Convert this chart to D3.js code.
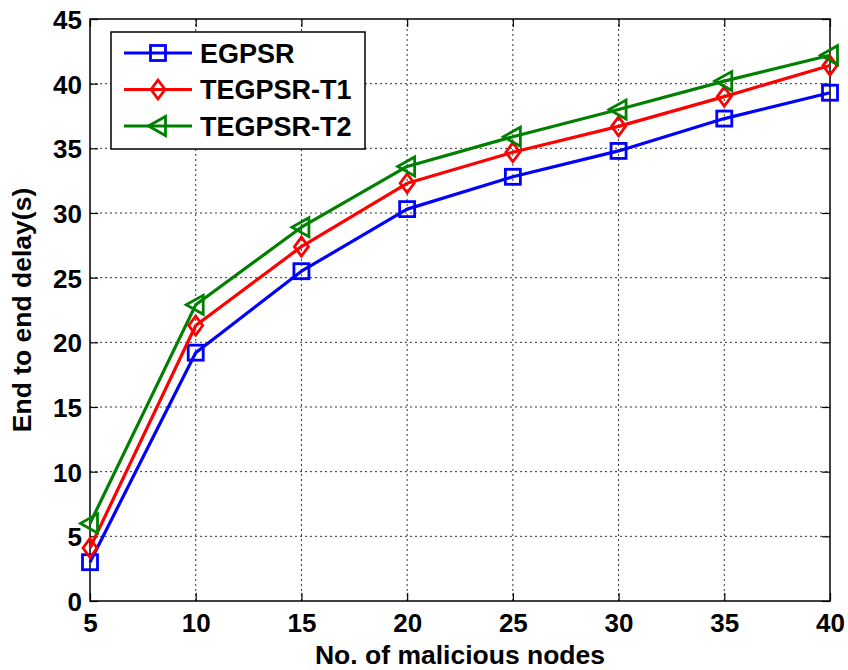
<!DOCTYPE html>
<html>
<head>
<meta charset="utf-8">
<script src="https://cdn.jsdelivr.net/npm/d3@7"></script>
<style>
  html, body { margin: 0; padding: 0; background: #fff; }
  svg { display: block; font-family: Arial, "Liberation Sans", sans-serif; font-weight: bold; }
</style>
</head>
<body>
<svg id="chart" width="848" height="670"></svg>
<script>
// Number of malicious nodes on the x axis
const nodes = [5, 10, 15, 20, 25, 30, 35, 40];
// End-to-end delay (s) per protocol
const egpsr   = [3.0, 19.2, 25.5, 30.3, 32.8, 34.8, 37.3, 39.3];
const tegpsr1 = [4.1, 21.3, 27.4, 32.3, 34.7, 36.7, 39.0, 41.4];
const tegpsr2 = [6.0, 22.9, 28.9, 33.6, 35.9, 38.0, 40.2, 42.2];
const seriesNames = ["EGPSR", "TEGPSR-T1", "TEGPSR-T2"];
const xTicks = [5, 10, 15, 20, 25, 30, 35, 40];
const yTicks = [0, 5, 10, 15, 20, 25, 30, 35, 40, 45];

const series = [
  { name: seriesNames[0], values: egpsr,   color: "#0000ff", marker: "square" },
  { name: seriesNames[1], values: tegpsr1, color: "#ff0000", marker: "diamond" },
  { name: seriesNames[2], values: tegpsr2, color: "#008000", marker: "triangle" }
];

const svg = d3.select("#chart");
const m = { left: 90, right: 18, top: 19, bottom: 69 };
const W = 848, H = 670;
const x = d3.scaleLinear().domain([5, 40]).range([m.left, W - m.right]);
const y = d3.scaleLinear().domain([0, 45]).range([H - m.bottom, m.top]);

const x0 = x.range()[0], x1 = x.range()[1], y0 = y.range()[0], y1 = y.range()[1];

// dotted grid
const grid = svg.append("g");
grid.selectAll(".gx").data(xTicks.slice(1, -1)).join("line")
  .attr("x1", d => x(d)).attr("x2", d => x(d)).attr("y1", y0).attr("y2", y1)
  .attr("stroke", "#333").attr("stroke-width", 1).attr("stroke-dasharray", "2,3");
grid.selectAll(".gy").data(yTicks.slice(1, -1)).join("line")
  .attr("y1", d => y(d)).attr("y2", d => y(d)).attr("x1", x0).attr("x2", x1)
  .attr("stroke", "#333").attr("stroke-width", 1).attr("stroke-dasharray", "2,3");

// axes with inward ticks
const fs = 26;
const xAxis = svg.append("g").attr("transform", `translate(0,${y0})`)
  .call(d3.axisBottom(x).tickValues(xTicks).tickSize(-8).tickPadding(13).tickFormat(d3.format("d")));
const yAxis = svg.append("g").attr("transform", `translate(${x0},0)`)
  .call(d3.axisLeft(y).tickValues(yTicks).tickSize(-8).tickPadding(8).tickFormat(d3.format("d")));
svg.append("g").attr("transform", `translate(0,${y1})`)
  .call(d3.axisTop(x).tickValues(xTicks).tickSize(-8).tickFormat(""));
svg.append("g").attr("transform", `translate(${x1},0)`)
  .call(d3.axisRight(y).tickValues(yTicks).tickSize(-8).tickFormat(""));
svg.selectAll(".domain").remove();
svg.selectAll(".tick line").attr("stroke", "#000").attr("stroke-width", 1.2);
svg.selectAll(".tick text").attr("font-size", fs).attr("font-weight", "bold")
  .attr("font-family", "Arial, 'Liberation Sans', sans-serif").attr("fill", "#000");
xAxis.selectAll(".tick text").attr("dy", "0.71em");
yAxis.selectAll(".tick text").attr("dy", "0.36em");

// plot frame
svg.append("rect").attr("x", x0).attr("y", y1).attr("width", x1 - x0).attr("height", y0 - y1)
  .attr("fill", "none").attr("stroke", "#000").attr("stroke-width", 1.5);

// marker shapes
function drawMarker(g, kind, color) {
  if (kind === "square") {
    g.append("rect").attr("x", -7.5).attr("y", -7.5).attr("width", 15).attr("height", 15)
      .attr("fill", "none").attr("stroke", color).attr("stroke-width", 2.8);
  } else if (kind === "diamond") {
    g.append("path").attr("d", "M0,-9.5 L7,0 L0,9.5 L-7,0 Z")
      .attr("fill", "none").attr("stroke", color).attr("stroke-width", 2.8);
  } else {
    g.append("path").attr("d", "M-9.5,0 L7.5,-9.5 L7.5,9.5 Z")
      .attr("fill", "none").attr("stroke", color).attr("stroke-width", 2.8);
  }
}

const line = d3.line().x((d, i) => x(nodes[i])).y(d => y(d));
series.forEach(s => {
  svg.append("path").datum(s.values).attr("d", line)
    .attr("fill", "none").attr("stroke", s.color).attr("stroke-width", 3.2)
    .attr("stroke-linejoin", "round");
  s.values.forEach((v, i) => {
    drawMarker(svg.append("g").attr("transform", `translate(${x(nodes[i])},${y(v)})`), s.marker, s.color);
  });
});

// axis titles
svg.append("text").attr("x", (x0 + x1) / 2).attr("y", 664)
  .attr("text-anchor", "middle").attr("font-size", 26.5).attr("fill", "#000")
  .text("No. of malicious nodes");
svg.append("text").attr("transform", `translate(31,${(y0 + y1) / 2}) rotate(-90)`)
  .attr("text-anchor", "middle").attr("font-size", 26.5).attr("fill", "#000")
  .text("End to end delay(s)");

// legend
const lg = svg.append("g");
lg.append("rect").attr("x", 111).attr("y", 32).attr("width", 254).attr("height", 117)
  .attr("fill", "#fff").attr("stroke", "#000").attr("stroke-width", 1.5);
series.forEach((s, i) => {
  const ly = 53 + i * 36.5;
  lg.append("line").attr("x1", 124).attr("x2", 192).attr("y1", ly).attr("y2", ly)
    .attr("stroke", s.color).attr("stroke-width", 3.2);
  drawMarker(lg.append("g").attr("transform", `translate(158,${ly})`), s.marker, s.color);
  lg.append("text").attr("x", 200).attr("y", ly).attr("dy", "0.36em")
    .attr("font-size", 27).attr("fill", "#000").text(s.name);
});
</script>
</body>
</html>
